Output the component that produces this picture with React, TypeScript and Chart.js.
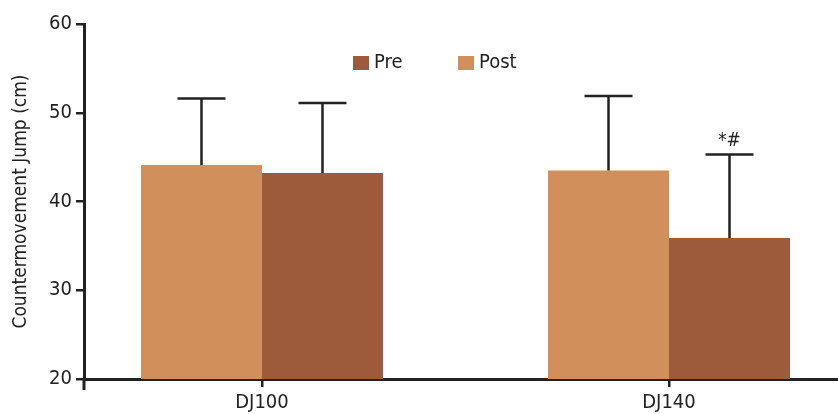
import React, { useEffect, useRef } from "react";
import { Chart, registerables } from "chart.js";

Chart.register(...registerables);

const categories = ["DJ100", "DJ140"];
const seriesLabels = ["Post", "Pre"];
const postValues = [44.1, 43.5];
const preValues = [43.2, 35.9];
const postErrors = [7.5, 8.4];
const preErrors = [7.9, 9.4];
const postMarks = ["", ""];
const preMarks = ["", "*#"];
const yTicks = [20, 30, 40, 50, 60];

const LIGHT = "#D18F5C";
const DARK = "#9E5B3B";
const INK = "#222222";
const FONT = "'Liberation Sans Narrow', 'DejaVu Sans Condensed', Roboto, sans-serif";

const errorsByDataset = [postErrors, preErrors];
const marksByDataset = [postMarks, preMarks];

const errorBarPlugin = {
  id: "errorBars",
  afterDatasetsDraw(chart: any) {
    const ctx = chart.ctx;
    const yScale = chart.scales.y;
    chart.data.datasets.forEach((ds: any, di: number) => {
      const meta = chart.getDatasetMeta(di);
      meta.data.forEach((el: any, i: number) => {
        const v = ds.data[i].y;
        const err = errorsByDataset[di][i];
        const yTop = yScale.getPixelForValue(v + err);
        ctx.save();
        ctx.strokeStyle = INK;
        ctx.lineWidth = 2.5;
        ctx.beginPath();
        ctx.moveTo(el.x, el.y);
        ctx.lineTo(el.x, yTop);
        ctx.moveTo(el.x - 24, yTop);
        ctx.lineTo(el.x + 24, yTop);
        ctx.stroke();
        const mark = marksByDataset[di][i];
        if (mark) {
          ctx.fillStyle = INK;
          ctx.font = `19px ${FONT}`;
          ctx.textAlign = "center";
          ctx.textBaseline = "bottom";
          ctx.fillText(mark, el.x, yTop - 4);
        }
        ctx.restore();
      });
    });
  },
  afterDraw(chart: any) {
    const ctx = chart.ctx;
    const a = chart.chartArea;
    ctx.save();
    ctx.strokeStyle = INK;
    ctx.lineWidth = 3;
    ctx.beginPath();
    ctx.moveTo(a.left, a.bottom);
    ctx.lineTo(a.left, a.bottom + 11);
    ctx.stroke();
    ctx.restore();
  },
};

const legendPlugin = {
  id: "customLegend",
  afterDraw(chart: any) {
    const ctx = chart.ctx;
    const a = chart.chartArea;
    const order = [1, 0];
    ctx.save();
    ctx.font = `20px ${FONT}`;
    ctx.textBaseline = "middle";
    ctx.textAlign = "left";
    order.forEach((di, k) => {
      const ds = chart.data.datasets[di];
      const x = a.left + 269 + k * 105;
      const y = a.top + 32;
      ctx.fillStyle = ds.backgroundColor;
      ctx.fillRect(x, y, 16, 14);
      ctx.fillStyle = INK;
      ctx.fillText(ds.label, x + 21, y + 7);
    });
    ctx.restore();
  },
};

export default function App() {
  const ref = useRef<HTMLCanvasElement>(null);
  useEffect(() => {
    document.body.style.margin = "0";
    const chart = new Chart(ref.current!, {
      type: "bar",
      data: {
        datasets: [
          {
            label: seriesLabels[0],
            data: categories.map((_, i) => ({ x: i, y: postValues[i] })),
            backgroundColor: LIGHT,
          },
          {
            label: seriesLabels[1],
            data: categories.map((_, i) => ({ x: i, y: preValues[i] })),
            backgroundColor: DARK,
          },
        ],
      },
      options: {
        animation: false,
        responsive: true,
        maintainAspectRatio: false,
        layout: { padding: { top: 24, right: 0, left: 0, bottom: 0 } },
        datasets: { bar: { categoryPercentage: 0.5946, barPercentage: 1 } },
        plugins: { legend: { display: false }, tooltip: { enabled: false } },
        scales: {
          x: {
            type: "linear",
            offset: false,
            min: -0.4373,
            max: 1.4152,
            afterBuildTicks: (scale: any) => {
              scale.ticks = categories.map((_, i) => ({ value: i }));
            },
            afterFit: (scale: any) => {
              scale.height = 35;
            },
            ticks: {
              callback: (v: any) => categories[Math.round(v)],
              color: INK,
              font: { family: FONT, size: 20 },
              padding: 4,
              maxRotation: 0,
              autoSkip: false,
            },
            grid: { offset: false, drawOnChartArea: false, tickLength: 8, color: INK, lineWidth: 2.5 },
            border: { color: INK, width: 3 },
          },
          y: {
            min: 20,
            max: 60,
            afterBuildTicks: (scale: any) => {
              scale.ticks = yTicks.map((v) => ({ value: v }));
            },
            afterFit: (scale: any) => {
              scale.width = 84;
            },
            ticks: {
              color: INK,
              font: { family: FONT, size: 20 },
              padding: 4,
            },
            grid: { drawOnChartArea: false, tickLength: 8, color: INK, lineWidth: 2.5 },
            border: { color: INK, width: 3 },
            title: {
              display: true,
              text: "Countermovement Jump (cm)",
              color: INK,
              font: { family: FONT, size: 19 },
              padding: { top: 10, bottom: 0 },
            },
          },
        },
      },
      plugins: [errorBarPlugin, legendPlugin],
    });
    return () => chart.destroy();
  }, []);
  return (
    <div style={{ position: "relative", width: 838, height: 414 }}>
      <canvas ref={ref} />
    </div>
  );
}
